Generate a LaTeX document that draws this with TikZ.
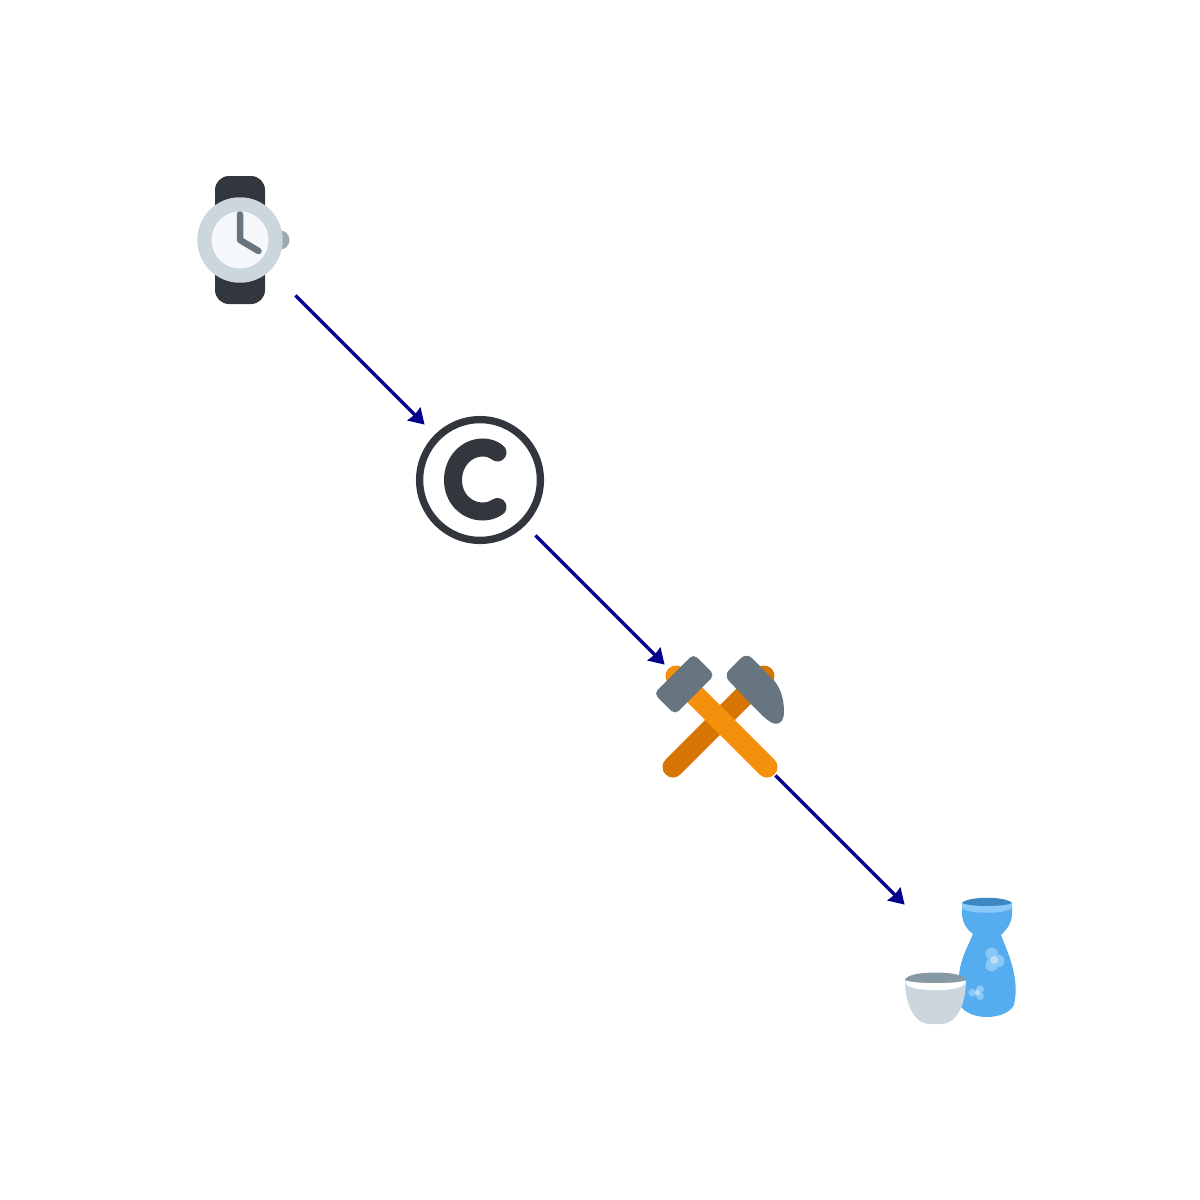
\documentclass[tikz,border=0pt]{standalone}
\usepackage{xcolor}
\usetikzlibrary{arrows.meta}
\definecolor{inkdark}{HTML}{31373D}
\definecolor{paleblue}{HTML}{CCD6DD}
\definecolor{paper}{HTML}{F5F8FA}
\definecolor{slate}{HTML}{66757F}
\definecolor{knob}{HTML}{99AAB5}
\definecolor{orangelt}{HTML}{F4900C}
\definecolor{orangedk}{HTML}{D67503}
\definecolor{flask}{HTML}{55ACEE}
\definecolor{flaskdk}{HTML}{3B88C3}
\definecolor{flasklt}{HTML}{88C9F9}
\definecolor{bloom}{HTML}{BBDDF5}
\definecolor{cupdk}{HTML}{8899A6}
\definecolor{navyline}{HTML}{00008B}
\tikzset{
  icon/.style={circle,minimum size=3.12cm,inner sep=0pt},
  flow/.style={-{Stealth[length=.3cm,width=.36cm,inset=.02cm]},line width=.07cm,color=navyline},
  handle/.style={line width=.42cm,line cap=round},
}
\begin{document}
\begin{tikzpicture}[x=.02cm,y=-.02cm]
\useasboundingbox (0,0) rectangle (1200,1200);

\node [icon] (watch) at (240,240) {};
\node [icon] (copyright) at (480,480) {};
\node [icon] (hammers) at (720,720) {};
\node [icon] (sake) at (960,960) {};

% watch
\fill[inkdark,rounded corners=.28cm] (215,176) rectangle (265,304);
\fill[knob] (280,240) circle [radius=.19cm];
\fill[paleblue] (240,240) circle [radius=.855cm];
\fill[paper] (240,240) circle [radius=.57cm];
\draw[slate,line width=.13cm,line cap=round,line join=round] (240,214.5) -- (240,240) -- (258.5,251);

% copyright
\draw[inkdark,line width=.146cm] (480,480) circle [radius=1.208cm];
\draw[inkdark,line width=.36cm,line cap=round] (497.5,452.5) .. controls (493,449) and (488,447.5) .. (483,447.5)
  .. controls (466,447.5) and (453,462) .. (453,480)
  .. controls (453,498) and (466,511.5) .. (483,511.5)
  .. controls (488,511.5) and (493,510) .. (497.5,507);

% hammers
\draw[orangedk,handle] (673,767) -- (764,676);
\draw[orangelt,handle] (767,767) -- (676,676);
\fill[slate,rounded corners=.1cm] (714.5,675) -- (693.5,654) -- (654,693.5) -- (675,714.5) -- cycle;
\fill[slate] (741,658) .. controls (744,655) and (749,655) .. (752,658) -- (772,678.5)
  .. controls (780,686) and (784,698) .. (784,712)
  .. controls (784,723) and (777,727) .. (769,721)
  .. controls (762,716) and (756,709) .. (750,703) -- (729,681)
  .. controls (726,678) and (726,673) .. (729,670) -- cycle;

% sake
\fill[flask] (962,903) -- (962,913) .. controls (962,924) and (968,930) .. (973,934)
  .. controls (967,948) and (959,962) .. (959,978)
  .. controls (958,988) and (959,998) .. (960,1005)
  .. controls (964,1013) and (976,1017) .. (987,1017)
  .. controls (998,1017) and (1010,1013) .. (1014,1005)
  .. controls (1016,995) and (1016,988) .. (1015,980)
  .. controls (1013,963) and (1006,948) .. (1001,935)
  .. controls (1006,930) and (1012,924) .. (1012,913) -- (1012,903) -- cycle;
\fill[flasklt] (962,903) .. controls (968,897) and (1006,897) .. (1012,903)
  .. controls (1012,906) and (1012,908) .. (1011,909)
  .. controls (1002,914) and (972,914) .. (963,909)
  .. controls (962,908) and (962,906) .. (962,903) -- cycle;
\fill[flaskdk] (962,903) .. controls (968,896) and (1006,896) .. (1012,903)
  .. controls (1003,907) and (971,907) .. (962,903) -- cycle;
\foreach \cx/\cy in {991.7/954,998.3/961,991.7/965}
  \fill[flasklt] (\cx,\cy) circle [radius=.126cm];
\fill[bloom] (994.3,960) circle [radius=.08cm];
\foreach \cx/\cy in {972.3/992.7,980/989.3,980/996}
  \fill[flasklt] (\cx,\cy) circle [radius=.08cm];
\fill[bloom] (977.7,992.7) circle [radius=.055cm];

\fill[paleblue] (905,980) .. controls (905,1004) and (914,1024) .. (930,1024) -- (941,1024)
  .. controls (957,1024) and (966,1004) .. (966,980) -- cycle;
\fill[cupdk] (905,980) .. controls (906,970) and (965,970) .. (966,980)
  .. controls (960,985) and (911,985) .. (905,980) -- cycle;
\fill[white] (906,980.5) .. controls (916,984) and (955,984) .. (965,980.5)
  .. controls (966,982) and (966,983) .. (965,983.5)
  .. controls (961,992.5) and (910,992.5) .. (906,983.5)
  .. controls (905.5,983) and (905.5,982) .. (906,980.5) -- cycle;

\foreach \from/\to in {watch/copyright,copyright/hammers,hammers/sake}
    \draw[flow] (\from) -- (\to);

\end{tikzpicture}
\end{document}
